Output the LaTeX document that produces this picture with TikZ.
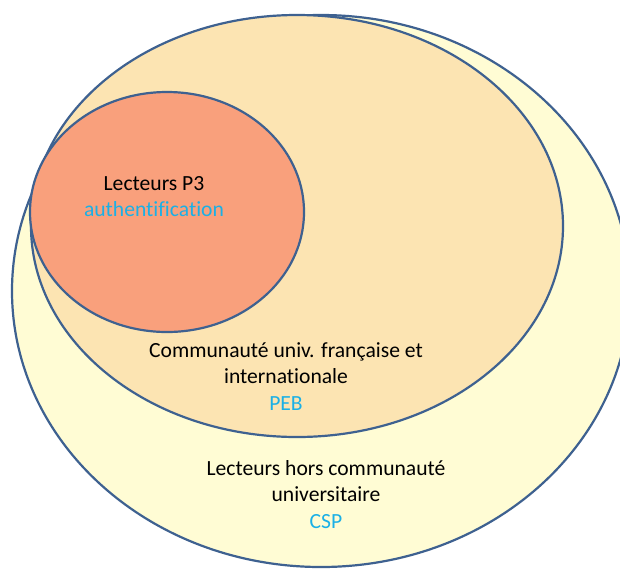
\documentclass[tikz,border=0pt]{standalone}
\usepackage{fontspec}
\setmainfont[Ligatures={NoCommon}]{Carlito}
\definecolor{edge}{HTML}{3E6190}
\definecolor{outerfill}{HTML}{FFFCD4}
\definecolor{midfill}{HTML}{FCE4B2}
\definecolor{innerfill}{HTML}{F9A07C}
\definecolor{bluetext}{HTML}{1BB0E6}
\tikzset{
  zone/.style={draw=edge, line width=2.2pt},
  lbl/.style={align=center, font=\fontsize{21.6}{26.5}\selectfont, inner sep=0pt},
}
\begin{document}
\begin{tikzpicture}[x=1pt,y=-1pt]
\useasboundingbox (0,0) rectangle (620,571);
\clip (0,0) rectangle (620,571);
\fill[white] (0,0) rectangle (620,571);
\path[zone, fill=outerfill] (321,291) ellipse [x radius=309pt, y radius=276pt];
\path[zone, fill=midfill] (297,226) ellipse [x radius=266pt, y radius=211pt];
\path[zone, fill=innerfill] (167,212) ellipse [x radius=137pt, y radius=120pt];
\node[lbl] (p3) at (154,196.5) {Lecteurs P3\\\textcolor{bluetext}{authentification}};
\node[lbl] (univ) at (286,376.5) {Communauté univ. française et\\internationale\\\textcolor{bluetext}{PEB}};
\node[lbl] (hors) at (326,494.5) {Lecteurs hors communauté\\universitaire\\\textcolor{bluetext}{CSP}};
\end{tikzpicture}
\end{document}
